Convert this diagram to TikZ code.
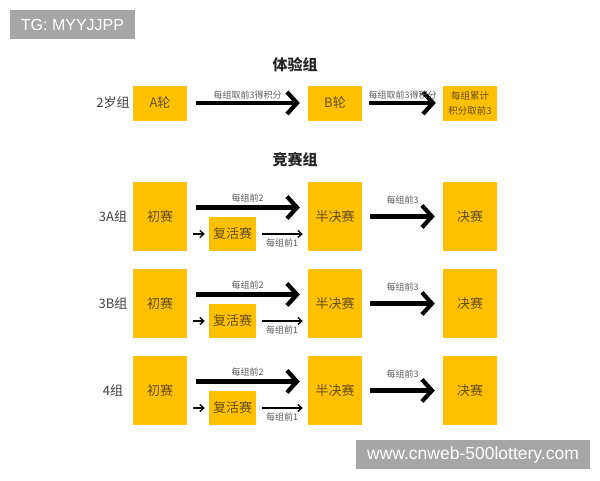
\documentclass[tikz,border=0pt]{standalone}
\usepackage{fontspec}
\newfontfamily\cjk{Noto Sans CJK SC}
\newfontfamily\wmfont{Liberation Sans}
\usepackage{xcolor}
\definecolor{boxgold}{HTML}{FFC000}
\definecolor{boxtext}{HTML}{65501A}
\definecolor{labgray}{HTML}{595959}
\definecolor{grptext}{HTML}{404040}
\definecolor{wmgray}{HTML}{A6A6A6}
\usepackage{tikz}
\usetikzlibrary{arrows.meta,positioning}

\begin{document}
\begin{tikzpicture}[x=1pt,y=-1pt,node distance=175pt]
              \tikzstyle{cell}=[fill=boxgold,text=boxtext,inner sep=0pt,minimum width=54pt,minimum height=35pt,font=\cjk\fontsize{13}{15}\selectfont]
              \tikzstyle{tall}=[cell,minimum height=69pt]
              \tikzstyle{rev}=[cell,minimum width=47pt,minimum height=34pt]
              \tikzstyle{grp}=[text=grptext,font=\cjk\fontsize{13}{15}\selectfont]
              \tikzstyle{hd}=[text=black!85,font=\cjk\bfseries\fontsize{15}{17}\selectfont]
              \tikzstyle{tag}=[text=labgray,inner sep=0pt,font=\cjk\fontsize{9}{11}\selectfont]
              \tikzstyle{big}=[-{Straight Barb[length=10pt,width=22pt]},line width=4.2pt]
              \tikzstyle{slim}=[-{Straight Barb[length=4pt,width=7pt]},line width=1.3pt]
              \tikzstyle{wm}=[fill=wmgray,text=white,inner sep=0pt,minimum height=29pt,font=\wmfont\fontsize{16}{18}\selectfont]

              \useasboundingbox (0,0) rectangle (600,480);

              \node[wm,minimum width=125pt]       (tg) at (72.5,24.5)  {TG: MYYJJPP};
              \node[wm,minimum width=234pt,font=\wmfont\fontsize{17.5}{19}\selectfont]
                                                  (url) at (473,454.5) {www.cnweb-500lottery.com};

              \node[hd]                           (T1) at (295,65)     {体验组};
              \node[hd]                           (T2) at (295,160)    {竞赛组};

              \node[cell]                         (A) at (160,103)     {A轮};
              \node[cell]                         (B) [right of=A]     {B轮};
              \node[cell,font=\cjk\fontsize{9.5}{15}\selectfont,align=center]
                                                  (E) [right of=B,node distance=135pt] {每组累计\\积分取前3};
              \node[grp]                          (G0) [left of=A,node distance=47pt] {2岁组};

              \node[tall]                         (C1) at (160,216.5)  {初赛};
              \node[tall]                         (S1) [right of=C1]   {半决赛};
              \node[tall]                         (F1) [right of=S1,node distance=135pt] {决赛};
              \node[rev]                          (R1) [right of=C1,node distance=72.5pt,yshift=-17.5pt] {复活赛};
              \node[grp]                          (G1) [left of=C1,node distance=47pt] {3A组};

              \node[tall]                         (C2) at (160,303.5)  {初赛};
              \node[tall]                         (S2) [right of=C2]   {半决赛};
              \node[tall]                         (F2) [right of=S2,node distance=135pt] {决赛};
              \node[rev]                          (R2) [right of=C2,node distance=72.5pt,yshift=-17.5pt] {复活赛};
              \node[grp]                          (G2) [left of=C2,node distance=47pt] {3B组};

              \node[tall]                         (C3) at (160,390.5)  {初赛};
              \node[tall]                         (S3) [right of=C3]   {半决赛};
              \node[tall]                         (F3) [right of=S3,node distance=135pt] {决赛};
              \node[rev]                          (R3) [right of=C3,node distance=72.5pt,yshift=-17.5pt] {复活赛};
              \node[grp]                          (G3) [left of=C3,node distance=47pt] {4组};

              \path (A.east) edge [big,shorten <=9pt,shorten >=8pt] node[tag,yshift=8pt] {每组取前3得积分} (B.west)
                    (B.east) edge [big,shorten <=7pt,shorten >=7pt] node[tag,yshift=8pt] {每组取前3得积分} (E.west)
                    ([yshift=9pt]C1.east) edge [big,shorten <=9pt,shorten >=8pt] node[tag,yshift=9pt] {每组前2} ([yshift=9pt]S1.west)
                    (S1.east) edge [big,shorten <=8pt,shorten >=8pt] node[tag,yshift=16pt] {每组前3} (F1.west)
                    (R1.west -| C1.east) edge [slim,shorten <=6pt,shorten >=4pt] (R1.west)
                    (R1.east) edge [slim,shorten <=6pt,shorten >=5pt] node[tag,yshift=-9pt] {每组前1} (R1.east -| S1.west)
                    ([yshift=9pt]C2.east) edge [big,shorten <=9pt,shorten >=8pt] node[tag,yshift=9pt] {每组前2} ([yshift=9pt]S2.west)
                    (S2.east) edge [big,shorten <=8pt,shorten >=8pt] node[tag,yshift=16pt] {每组前3} (F2.west)
                    (R2.west -| C2.east) edge [slim,shorten <=6pt,shorten >=4pt] (R2.west)
                    (R2.east) edge [slim,shorten <=6pt,shorten >=5pt] node[tag,yshift=-9pt] {每组前1} (R2.east -| S2.west)
                    ([yshift=9pt]C3.east) edge [big,shorten <=9pt,shorten >=8pt] node[tag,yshift=9pt] {每组前2} ([yshift=9pt]S3.west)
                    (S3.east) edge [big,shorten <=8pt,shorten >=8pt] node[tag,yshift=16pt] {每组前3} (F3.west)
                    (R3.west -| C3.east) edge [slim,shorten <=6pt,shorten >=4pt] (R3.west)
                    (R3.east) edge [slim,shorten <=6pt,shorten >=5pt] node[tag,yshift=-9pt] {每组前1} (R3.east -| S3.west);

       \end{tikzpicture}
\end{document}
